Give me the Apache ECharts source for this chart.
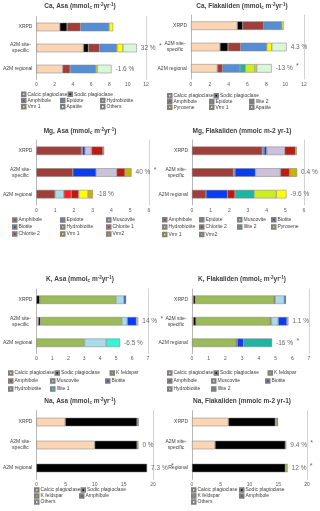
<!DOCTYPE html>
<html>
<head>
<meta charset="utf-8">
<style>
  html, body { margin: 0; padding: 0; background: #fff; }
  #chart { width: 320px; height: 511px; }
</style>
<script src="https://cdn.jsdelivr.net/npm/echarts@6/dist/echarts.min.js"></script>
</head>
<body>
<div id="chart"></div>
<script>
// categories (top to bottom)
var cats = ['XRPD', 'A2M site-\nspecific', 'A2M regional'];
var catsNaFlak = ['XRPD', 'A2M site-\nspecific', 'Regional'];

// each row: one mineral, values for [XRPD, site-specific, regional]
var caAsaMinerals = ['Calcic plagioclase', 'Sodic plagioclase', 'Amphibole', 'Epidote', 'Hydrobiotite', 'Vrm 1', 'Apatite', 'Others'];
var caAsaValues = [
  [2.56, 5.15, 2.88],
  [0.79, 0.54, 0],
  [1.48, 1.19, 0.80],
  [3.13, 1.88, 2.84],
  [0, 0.07, 0],
  [0.44, 0.65, 0.15],
  [0, 1.51, 1.55],
  [0, 0, 0]
];
var caAsaChange = ['', '32 % *', '-1.6 %'];

var caFlakMinerals = ['Calcic plagioclase', 'Sodic plagioclase', 'Amphibole', 'Epidote', 'Illite 2', 'Pyroxene', 'Vrm 1', 'Apatite'];
var caFlakValues = [
  [4.92, 3.08, 2.80],
  [0.57, 0.85, 0],
  [2.23, 1.34, 0.56],
  [1.94, 2.77, 1.84],
  [0, 0, 0.57],
  [0, 0, 1.03],
  [0.20, 0.53, 0.17],
  [0, 1.59, 1.60]
];
var caFlakChange = ['', '4.3 %', '-13 % *'];

var mgAsaMinerals = ['Amphibole', 'Epidote', 'Muscovite', 'Biotite', 'Hydrobiotite', 'Chlorite 1', 'Chlorite 2', 'Vrm 1', 'Vrm2'];
var mgAsaValues = [
  [2.39, 1.94, 0.99],
  [0.06, 0, 0],
  [0, 0, 0.47],
  [0.14, 1.24, 0],
  [0.35, 1.10, 0],
  [0, 0, 0.39],
  [0.60, 0.44, 0.40],
  [0, 0, 0.50],
  [0.07, 0.35, 0.26]
];
var mgAsaChange = ['', '40 % *', '-18 %'];

var mgFlakMinerals = ['Amphibole', 'Epidote', 'Muscovite', 'Biotite', 'Hydrobiotite', 'Chlorite 2', 'Illite 2', 'Pyroxene', 'Vrm 1', 'Vrm2'];
var mgFlakValues = [
  [3.76, 2.21, 0.75],
  [0.10, 0.09, 0],
  [0, 0, 0],
  [0.14, 1.10, 1.15],
  [0.97, 1.34, 0],
  [0.57, 0.49, 0.40],
  [0, 0, 1.03],
  [0, 0, 1.19],
  [0, 0, 0.54],
  [0.07, 0.40, 0]
];
var mgFlakChange = ['', '0.4 %', '-9.6 %'];

var kAsaMinerals = ['Calcic plagioclase', 'Sodic plagioclase', 'K feldspar', 'Amphibole', 'Muscovite', 'Biotite', 'Hydrobiotite', 'Illite 1'];
var kAsaValues = [
  [0, 0.12, 0],
  [0.20, 0.12, 0],
  [4.79, 5.11, 3.01],
  [0, 0, 0],
  [0.50, 0.35, 1.37],
  [0.13, 0.57, 0],
  [0, 0.12, 0],
  [0, 0, 0.87]
];
var kAsaChange = ['', '14 % *', '-6.5 %'];

var kFlakMinerals = ['Calcic plagioclase', 'Sodic plagioclase', 'K feldspar', 'Amphibole', 'Muscovite', 'Biotite', 'Hydrobiotite', 'Illite 2'];
var kFlakValues = [
  [0.08, 0.08, 0],
  [0.12, 0.16, 0],
  [4.72, 4.45, 2.65],
  [0.06, 0.06, 0.06],
  [0.54, 0.41, 0],
  [0.10, 0.52, 0.37],
  [0, 0.09, 0],
  [0, 0, 1.71]
];
var kFlakChange = ['', '1.1 %', '-16 % *'];

var naMinerals = ['Calcic plagioclase', 'Sodic plagioclase', 'K feldspar', 'Amphibole', 'Others'];
var naAsaValues = [
  [4.94, 10.0, 0],
  [12.33, 7.27, 18.98],
  [0.17, 0.23, 0],
  [0.08, 0, 0],
  [0, 0, 0]
];
var naAsaChange = ['', '0 %', '7.3 % *'];

var naFlakValues = [
  [6.34, 4.01, 0],
  [8.14, 12.21, 16.22],
  [0.29, 0.18, 0.41],
  [0.17, 0, 0],
  [0, 0, 0]
];
var naFlakChange = ['', '9.4 % *', '12 % *'];

var colors = {
  'Calcic plagioclase': '#fcd5b5',
  'Sodic plagioclase': '#000000',
  'K feldspar': '#9bbb59',
  'Amphibole': '#a03e3a',
  'Epidote': '#558ed5',
  'Muscovite': '#a9dbe8',
  'Biotite': '#0a3cf5',
  'Hydrobiotite': '#ccc1da',
  'Chlorite 1': '#ff1f1f',
  'Chlorite 2': '#c01a10',
  'Illite 1': '#33f5d8',
  'Illite 2': '#1fb5a3',
  'Pyroxene': '#ccee1e',
  'Vrm 1': '#ffff00',
  'Vrm2': '#c8b400',
  'Apatite': '#d9f7d9',
  'Others': '#ffffff'
};

var panels = [
  { title: 'Ca, Asa (mmol{sub|c} m{sup|-2}yr{sup|-1})', names: caAsaMinerals, values: caAsaValues, change: caAsaChange, cats: cats, max: 12, interval: 2 },
  { title: 'Ca, Flakaliden (mmol{sub|c} m{sup|-2}yr{sup|-1})', names: caFlakMinerals, values: caFlakValues, change: caFlakChange, cats: cats, max: 12, interval: 2 },
  { title: 'Mg, Asa (mmol{sub|c} m{sup|-2}yr{sup|-1})', names: mgAsaMinerals, values: mgAsaValues, change: mgAsaChange, cats: cats, max: 6, interval: 1 },
  { title: 'Mg, Flakaliden (mmolc m-2 yr-1)', names: mgFlakMinerals, values: mgFlakValues, change: mgFlakChange, cats: cats, max: 6, interval: 1 },
  { title: 'K, Asa (mmol{sub|c} m{sup|-2}yr{sup|-1})', names: kAsaMinerals, values: kAsaValues, change: kAsaChange, cats: cats, max: 7, interval: 1 },
  { title: 'K, Flakaliden (mmol{sub|c} m{sup|-2}yr{sup|-1})', names: kFlakMinerals, values: kFlakValues, change: kFlakChange, cats: cats, max: 7, interval: 1 },
  { title: 'Na, Asa (mmol{sub|c} m{sup|-2}yr{sup|-1})', names: naMinerals, values: naAsaValues, change: naAsaChange, cats: cats, max: 20, interval: 5 },
  { title: 'Na, Flakaliden (mmolc m-2 yr-1)', names: naMinerals, values: naFlakValues, change: naFlakChange, cats: catsNaFlak, max: 20, interval: 5 }
];

// positions in px
var layouts = [
  { tx: 80,  ty: 2.5, grid: { left: 35,  top: 16.5, width: 111, height: 63 }, legend: { left: 21, top: 91,  cols: [42, 41, 41], row: 6.3 } },
  { tx: 242, ty: 2.5, grid: { left: 191, top: 15,   width: 113, height: 64 }, legend: { left: 167, top: 93, cols: [42, 44, 44], row: 5.7 } },
  { tx: 80,  ty: 127.5, grid: { left: 35,  top: 140, width: 114, height: 65 }, legend: { left: 12, top: 216.5, cols: [50, 48, 48], row: 7 } },
  { tx: 242, ty: 127.5, grid: { left: 192, top: 140, width: 112, height: 65 }, legend: { left: 162, top: 216, cols: [39, 40, 36, 38], row: 7.4 } },
  { tx: 80,  ty: 275.5, grid: { left: 34,  top: 289, width: 114, height: 64.5 }, legend: { left: 8, top: 369, cols: [44, 57, 50], row: 8 } },
  { tx: 242, ty: 275.5, grid: { left: 192, top: 289, width: 117, height: 64.5 }, legend: { left: 167, top: 369, cols: [46, 56, 50], row: 8 } },
  { tx: 80,  ty: 397.5, grid: { left: 35,  top: 410.5, width: 118, height: 69 }, legend: { left: 34, top: 487, cols: [47, 47], row: 6 } },
  { tx: 242, ty: 397.5, grid: { left: 192, top: 410.5, width: 115, height: 69 }, legend: { left: 191, top: 487, cols: [50, 50], row: 6 } }
];

var FONT = '"Liberation Sans Narrow", "Liberation Sans", Arial, sans-serif';

var titles = [], grids = [], xAxes = [], yAxes = [], legends = [], series = [];

panels.forEach(function (p, k) {
  var L = layouts[k];
  titles.push({
    text: p.title, left: L.tx, top: L.ty, textAlign: 'center', padding: 0,
    textStyle: {
      fontSize: 6.5, fontWeight: 'bold', color: '#404040', fontFamily: FONT,
      rich: {
        sub: { fontSize: 4.5, fontWeight: 'bold', color: '#404040', fontFamily: FONT, padding: [3, 0, 0, 0] },
        sup: { fontSize: 4.5, fontWeight: 'bold', color: '#404040', fontFamily: FONT, padding: [0, 0, 3, 0] }
      }
    }
  });
  grids.push(L.grid);
  xAxes.push({
    type: 'value', gridIndex: k, min: 0, max: p.max, interval: p.interval,
    axisLine: { show: false }, axisTick: { show: false }, splitLine: { show: false },
    axisLabel: { fontSize: 5, color: '#595959', margin: 3, fontFamily: FONT }
  });
  yAxes.push({
    type: 'category', gridIndex: k, data: p.cats, inverse: true,
    axisLine: { lineStyle: { color: '#a6a6a6', width: 0.8 } },
    axisTick: { show: false },
    axisLabel: {
      fontSize: 5, color: '#404040', margin: 4, fontFamily: FONT,
      formatter: function (v) {
        if (v.indexOf('\n') < 0) return v;
        return v.split('\n').map(function (s) { return '{c|' + s + '}'; }).join('\n');
      },
      rich: { c: { fontSize: 5, color: '#404040', fontFamily: FONT, width: 24, align: 'center', lineHeight: 6 } }
    }
  });
  yAxes.push({
    type: 'category', gridIndex: k, data: p.cats, inverse: true, position: 'right',
    axisLine: { show: true, lineStyle: { color: '#c8c8c8', width: 0.8 } },
    axisTick: { show: false }, axisLabel: { show: false }
  });

  p.names.forEach(function (n, i) {
    series.push({
      type: 'bar', name: n, stack: 'p' + k, xAxisIndex: k, yAxisIndex: 2 * k,
      barWidth: 8.5,
      itemStyle: { color: colors[n], borderColor: '#7f7f7f', borderWidth: 0.5 },
      data: p.values[i].map(function (v) { return v === 0 ? '-' : v; })
    });
  });

  var totals = p.cats.map(function (c, j) {
    return p.values.reduce(function (s, row) { return s + row[j]; }, 0);
  });
  series.push({
    type: 'scatter', name: 'change', xAxisIndex: k, yAxisIndex: 2 * k,
    symbolSize: 0, z: 5,
    data: totals.map(function (t, j) { return [t, j]; }),
    label: {
      show: true, position: 'right', distance: 4,
      formatter: function (prm) {
        var s = p.change[prm.dataIndex];
        if (!s) return '';
        if (s.slice(-1) === '*') return '{p|' + s.slice(0, -2) + '} {s|*}';
        return '{p|' + s + '}';
      },
      rich: {
        p: { fontSize: 6.5, color: '#404040', fontFamily: FONT },
        s: { fontSize: 7, color: '#404040', fontFamily: FONT, padding: [0, 0, 4, 0] }
      }
    }
  });

  // legend: item box = icon 3.5 + gap 5 + text width, so text width = column - 8.5
  var ncol = L.legend.cols.length;
  var lw = L.legend.cols.reduce(function (a, b) { return a + b; }, 0);
  legends.push({
    left: L.legend.left, top: L.legend.top, width: lw + 2, padding: 0,
    orient: 'horizontal', itemGap: 0, itemWidth: 3.5, itemHeight: 3.5,
    icon: 'rect', selectedMode: false,
    data: p.names.map(function (n, i) {
      return { name: n, textStyle: { width: L.legend.cols[i % ncol] - 8.5 } };
    }),
    textStyle: { fontSize: 5, color: '#404040', fontFamily: FONT, lineHeight: L.legend.row, padding: [0, 0, 0, -3] }
  });
});

var chart = echarts.init(document.getElementById('chart'), null, { renderer: 'canvas' });
chart.setOption({
  animation: false,
  backgroundColor: '#fff',
  title: titles,
  grid: grids,
  xAxis: xAxes,
  yAxis: yAxes,
  legend: legends,
  series: series
});
</script>
</body>
</html>
